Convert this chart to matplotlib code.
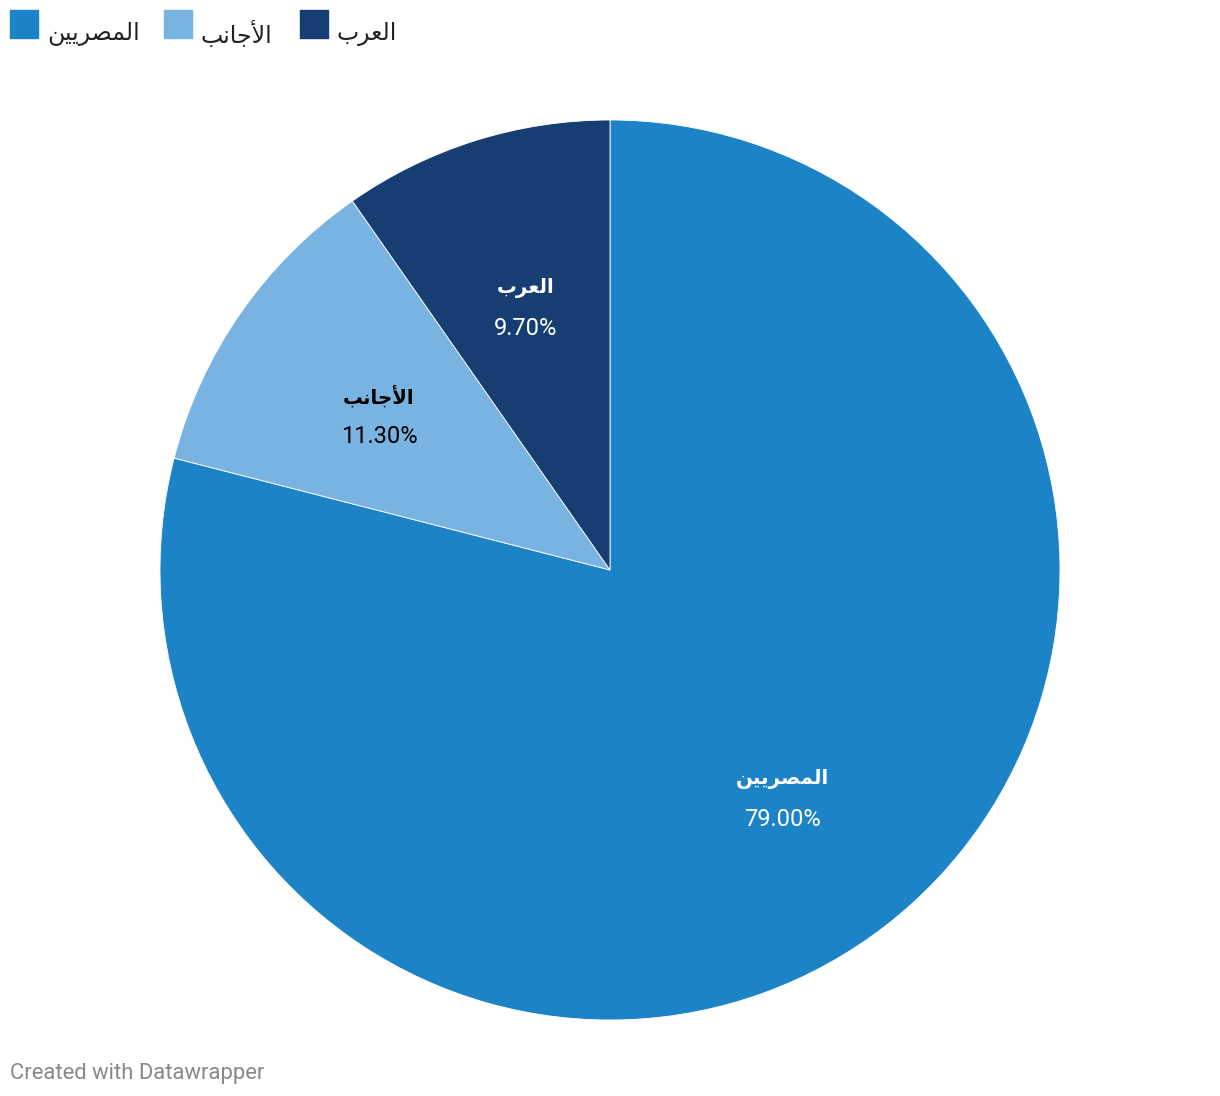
import numpy as np
import matplotlib
matplotlib.use('Agg')
import matplotlib.pyplot as plt
from matplotlib.patches import Rectangle

# Arabic words are written with presentation forms in visual order,
# since matplotlib does not shape or reorder right-to-left text
categories = ['ﻦﻴﻳﺮﺼﻤﻟﺍ', 'ﺐﻧﺎﺟﻷﺍ', 'ﺏﺮﻌﻟﺍ']   # المصريين, الأجانب, العرب
values = [79.0, 11.3, 9.7]
colors = ['#1b83c6', '#78b3e1', '#173e72']
label_colors = ['white', 'black', 'white']

plt.rcParams['font.family'] = ['Roboto', 'DejaVu Sans']

fig = plt.figure(figsize=(12.2, 10.96), dpi=100)
W, H = 1220, 1096

# pie: centre (610, 570) px, radius 450 px
ax = fig.add_axes([160 / W, (H - 1020) / H, 900 / W, 900 / H])
wedges, _ = ax.pie(values, colors=colors, startangle=90, counterclock=False,
                   radius=1, wedgeprops=dict(edgecolor='white', linewidth=0.6))
ax.set_xlim(-1, 1)
ax.set_ylim(-1, 1)
ax.set_aspect('equal')
ax.axis('off')

for w, name, val, lc in zip(wedges, categories, values, label_colors):
    ang = np.deg2rad((w.theta1 + w.theta2) / 2)
    r = 0.625
    x, y = r * np.cos(ang), r * np.sin(ang)
    ax.text(x, y + 0.03, name, ha='center', va='center', color=lc,
            fontsize=14.2, fontweight='bold', family=['Roboto', 'DejaVu Sans'])
    ax.text(x, y - 0.06, f'{val:.2f}%', ha='center', va='center', color=lc,
            fontsize=17, family=['Roboto', 'DejaVu Sans'])

# legend along the top
leg_x = [10, 164, 300]
for lx, name, c in zip(leg_x, categories, colors):
    fig.patches.append(Rectangle((lx / W, 1 - 38 / H), 28 / W, 28 / H,
                                 transform=fig.transFigure, color=c))
    fig.text((lx + 37) / W, 1 - 34 / H, name, ha='left', va='center',
             fontsize=17, color='#222222', family=['Roboto', 'DejaVu Sans'])

fig.text(10 / W, 1 - 1073 / H, 'Created with Datawrapper', ha='left', va='center',
         fontsize=15.8, color='#888888')

fig.savefig('out.png', dpi=100, facecolor='white')
